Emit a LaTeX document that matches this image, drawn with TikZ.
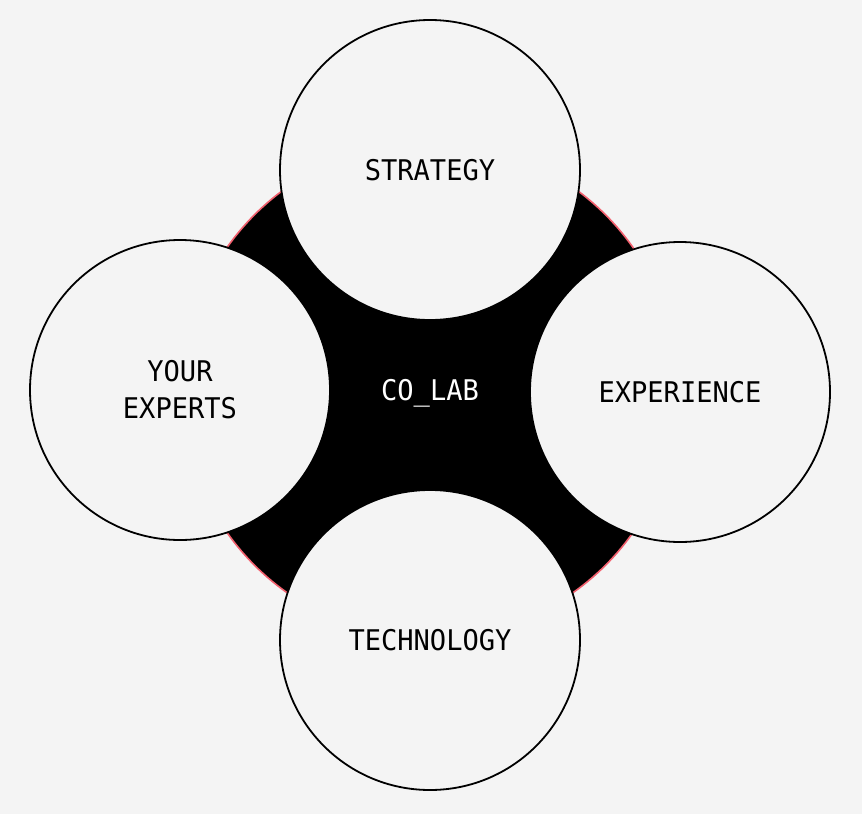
\documentclass[tikz,border=0pt]{standalone}
\usepackage{fontspec}
\setmonofont[FakeStretch=0.95]{DejaVu Sans Mono}
\usetikzlibrary{positioning}
\definecolor{paper}{HTML}{F4F4F4}
\definecolor{rim}{HTML}{F2606E}
\tikzset{
    hub/.style={
        circle,
        fill=black,
        draw=rim,
        line width=1.6pt,
        minimum size=496pt,
        inner sep=0pt,
        text=white,
        font=\ttfamily\fontsize{28.5}{37}\selectfont
    },
    pillar/.style={
        draw,
        circle,
        fill=paper,
        line width=1.8pt,
        minimum size=300pt,
        inner sep=0pt,
        align=center,
        font=\ttfamily\fontsize{28.5}{37}\selectfont
    },
}
\begin{document}
\begin{tikzpicture}[x=1pt, y=-1pt]
    % background
    \fill[paper] (0,0) rectangle (862,814);
    \useasboundingbox (0,0) rectangle (862,814);

    % hub
    \node[hub] (colab) at (430,390) {};
    \node[text=white, font=\ttfamily\fontsize{28.5}{37}\selectfont] (hublabel) at (430,393) {CO\_LAB};

    % pillars
    \node[pillar] (strategy) at (430,170) {\raisebox{-2pt}{STRATEGY}};
    \node[pillar] (experts) at (180,390) {\raisebox{-3pt}{YOUR}\\\raisebox{-3pt}{EXPERTS}};
    \node[pillar] (experience) at (680,392) {\raisebox{-2pt}{EXPERIENCE}};
    \node[pillar] (technology) at (430,640) {\raisebox{-2pt}{TECHNOLOGY}};
\end{tikzpicture}
\end{document}
